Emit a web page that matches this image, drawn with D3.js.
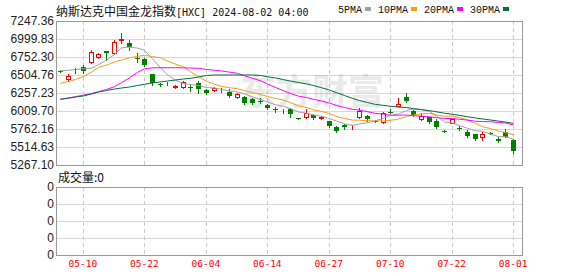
<!DOCTYPE html>
<html>
<head>
<meta charset="utf-8">
<script src="https://cdn.jsdelivr.net/npm/d3@7"></script>
<style>
body { margin: 0; background: #fff; }
svg { display: block; }
</style>
</head>
<body>
<script>
// trading days shown, MM-DD
var dates = ["05-07","05-08","05-09","05-10","05-13","05-14","05-15","05-16","05-17","05-20",
    "05-21","05-22","05-23","05-24","05-28","05-29","05-30","05-31","06-03","06-04",
    "06-05","06-06","06-07","06-10","06-11","06-12","06-13","06-14","06-17","06-18",
    "06-20","06-21","06-24","06-25","06-26","06-27","06-28","07-01","07-02","07-03",
    "07-05","07-08","07-09","07-10","07-11","07-12","07-15","07-16","07-17","07-18",
    "07-19","07-22","07-23","07-24","07-25","07-26","07-29","07-30","07-31","08-01"];
var opens = [6560,6454,6562,6611,6679,6748,6835,6803,6990,6941,6738,6721,6514,6385,6390,6335,6336,6340,6399,6299,
    6299,6310,6275,6206,6198,6175,6150,6092,6042,6010,6033,5910,5923,5955,5920,5872,5794,5817,5800,5923,
    5941,5870,5863,6000,6083,6207,6010,5904,5923,5876,5740,5849,5780,5725,5689,5648,5710,5625,5725,5611];
var closes = [6548,6495,6565,6556,6825,6794,6803,6963,7000,6886,6725,6642,6391,6378,6395,6360,6413,6325,6308,6253,
    6330,6316,6220,6240,6124,6116,6142,6055,6037,6014,5968,5904,5978,5910,5923,5808,5739,5786,5806,6014,
    5900,5862,5978,5992,6106,6151,5955,5941,5863,5794,5735,5895,5765,5670,5625,5693,5703,5601,5656,5464];
var highs = [6568,6514,6605,6642,6849,6803,6840,6986,7078,6986,6803,6743,6520,6399,6410,6370,6420,6367,6422,6310,
    6340,6320,6308,6262,6216,6190,6184,6106,6069,6037,6047,5915,6037,5965,5935,5875,5800,5827,5817,6047,
    5950,5880,6000,6037,6184,6253,6020,5978,5930,5895,5750,5904,5803,5748,5695,5725,5720,5648,5758,5621];
var lows = [6540,6426,6528,6536,6666,6734,6711,6794,6941,6849,6688,6633,6367,6354,6368,6330,6330,6285,6261,6240,
    6290,6271,6206,6184,6106,6105,6116,6041,6000,5982,5931,5899,5920,5900,5900,5794,5725,5762,5762,5920,
    5877,5852,5849,5978,6080,6138,5945,5886,5849,5780,5725,5840,5748,5656,5615,5611,5695,5583,5648,5436];

var ma5 = [6560,6570,6580,6590,6598,6647,6709,6788,6877,6889,6875,6843,6729,6604,6506,6433,6387,6374,6360,6332,
    6326,6306,6285,6272,6246,6203,6168,6135,6095,6073,6043,5996,5980,5955,5937,5905,5872,5833,5812,5831,
    5849,5874,5912,5949,5968,6018,6036,6029,6003,5941,5858,5846,5810,5772,5738,5730,5691,5658,5656,5623];
var ma10 = [6391,6415,6443,6484,6546,6608,6642,6684,6711,6743,6761,6776,6758,6741,6698,6654,6615,6551,6482,6419,
    6379,6347,6330,6316,6289,6264,6237,6210,6183,6159,6123,6082,6058,6025,6005,5974,5934,5907,5884,5884,
    5877,5873,5873,5881,5899,5933,5955,5970,5976,5954,5938,5941,5920,5887,5839,5794,5768,5734,5714,5681];
var ma20 = [6171,6189,6207,6228,6250,6275,6305,6345,6400,6465,6540,6590,6603,6605,6605,6605,6603,6600,6597,6581,
    6570,6561,6544,6528,6493,6459,6426,6381,6333,6289,6251,6214,6194,6170,6147,6119,6086,6059,6033,6022,
    6000,5977,5965,5953,5952,5954,5944,5939,5930,5919,5907,5907,5896,5884,5869,5864,5862,5852,5845,5817];
var ma30 = [6171,6186,6202,6216,6243,6271,6292,6312,6326,6340,6360,6377,6395,6409,6422,6436,6450,6459,6477,6498,
    6505,6505,6505,6505,6505,6505,6498,6481,6464,6441,6421,6402,6382,6360,6330,6298,6262,6223,6183,6154,
    6126,6100,6087,6074,6064,6057,6042,6029,6014,5999,5979,5965,5950,5931,5914,5900,5886,5871,5858,5839];

var yTicks = [7247.36, 6999.83, 6752.30, 6504.76, 6257.23, 6009.70, 5762.16, 5514.63, 5267.10];
var volTicks = ["0", "0", "0", "0", "0"];
var tickDates = ["05-10", "05-22", "06-04", "06-14", "06-27", "07-10", "07-22", "08-01"];
var maNames = ["5PMA", "10PMA", "20PMA", "30PMA"];
var maColors = ["#a0a0a0", "#f0a010", "#ff00ff", "#00703c"];
var title = "纳斯达克中国金龙指数", titleCode = "[HXC] 2024-08-02 04:00";
var volTitle = "成交量:0";

var W = 578, H = 276;
var pL = 56, pR = 522, pT = 21, pB = 165;
var vT = 187, vB = 255;

var svg = d3.select("body").append("svg").attr("width", W).attr("height", H);

var x = d3.scaleBand().domain(dates).range([pL, 517]);
var cx = function (d) { return Math.round(x(d) + x.bandwidth() / 2); };
var y = d3.scaleLinear().domain([yTicks[yTicks.length - 1], yTicks[0]]).range([pB, pT]);
var yv = d3.scaleLinear().domain([0, volTicks.length - 1]).range([vB, vT]);

// grids
function hGrid(ys) {
    svg.append("g").selectAll("line").data(ys).join("line")
        .attr("x1", pL).attr("x2", pR)
        .attr("y1", function (d) { return Math.round(d) + 0.5; })
        .attr("y2", function (d) { return Math.round(d) + 0.5; })
        .attr("stroke", "#d8d8d8");
}
hGrid(yTicks.map(y));
hGrid(volTicks.map(function (d, i) { return yv(i); }));
[[pT, pB], [vT, vB]].forEach(function (r) {
    svg.append("g").selectAll("line").data(tickDates).join("line")
        .attr("x1", function (d) { return cx(d) + 0.5; })
        .attr("x2", function (d) { return cx(d) + 0.5; })
        .attr("y1", r[0]).attr("y2", r[1])
        .attr("stroke", "#cccccc").attr("stroke-dasharray", "4,3");
});

// watermark
svg.append("text").attr("x", 240).attr("y", 105)
    .attr("font-family", "Noto Sans CJK SC").attr("font-size", 36).attr("font-weight", "bold")
    .attr("fill", "#000").attr("opacity", 0.08).text("东方财富");

// candles
var g = svg.append("g");
dates.forEach(function (d, i) {
    var c = cx(d), up = closes[i] >= opens[i];
    var col = up ? "#ff0000" : "#008000";
    var t = Math.round(y(Math.max(opens[i], closes[i]))), b = Math.round(y(Math.min(opens[i], closes[i])));
    g.append("line").attr("x1", c + 0.5).attr("x2", c + 0.5)
        .attr("y1", Math.round(y(highs[i]))).attr("y2", Math.round(y(lows[i])) + 1)
        .attr("stroke", col);
    if (up) {
        g.append("rect").attr("x", c - 1.5).attr("y", t + 0.5).attr("width", 4).attr("height", Math.max(b - t, 0))
            .attr("fill", "#fff").attr("stroke", col);
    } else {
        g.append("rect").attr("x", c - 2).attr("y", t).attr("width", 5).attr("height", Math.max(b - t, 1))
            .attr("fill", col);
    }
});

// moving averages
var line = d3.line()
    .x(function (d, i) { return cx(dates[i]) + 0.5; })
    .y(function (d) { return y(d); });
[ma5, ma10, ma20, ma30].forEach(function (s, k) {
    svg.append("path").attr("d", line(s)).attr("fill", "none")
        .attr("stroke", maColors[k]).attr("stroke-width", 1);
});

// frames
[[pT, pB], [vT, vB]].forEach(function (r) {
    svg.append("rect").attr("x", pL + 0.5).attr("y", r[0] + 0.5)
        .attr("width", pR - pL).attr("height", r[1] - r[0])
        .attr("fill", "none").attr("stroke", "#999");
});

// axes
var ya = svg.append("g").attr("transform", "translate(" + (pL - 1) + ",0)")
    .call(d3.axisLeft(y).tickValues(yTicks).tickFormat(d3.format(".2f")).tickSize(0).tickPadding(1));
var va = svg.append("g").attr("transform", "translate(" + (pL - 1) + ",0)")
    .call(d3.axisLeft(yv).tickValues(d3.range(volTicks.length)).tickFormat(function (d) { return volTicks[d]; }).tickSize(0).tickPadding(1));
[ya, va].forEach(function (a) {
    a.select(".domain").remove();
    a.attr("font-family", "Liberation Sans").attr("font-size", 12);
    a.selectAll("text").attr("fill", "#222").attr("dy", "0.27em");
});
var xa = svg.append("g").attr("transform", "translate(0," + vB + ")")
    .call(d3.axisBottom(x).tickValues(tickDates).tickSize(0).tickPadding(5));
xa.select(".domain").remove();
xa.attr("font-family", "DejaVu Sans Mono").attr("font-size", 9.5);
xa.selectAll("text").attr("fill", "#ff0000").attr("dy", "0.71em");

// title
var tt = svg.append("text").attr("x", 56).attr("y", 16).attr("fill", "#111");
tt.append("tspan").attr("font-family", "Noto Sans CJK SC").attr("font-size", 12).text(title);
tt.append("tspan").attr("font-family", "DejaVu Sans Mono").attr("font-size", 10).text(titleCode);

// legend
var lx = 338;
maNames.forEach(function (n, k) {
    var t = svg.append("text").attr("x", lx).attr("y", 13)
        .attr("font-family", "Liberation Mono").attr("font-size", 10).attr("fill", "#111").text(n);
    var w = t.node().getComputedTextLength();
    svg.append("rect").attr("x", Math.round(lx + w + 3)).attr("y", 7).attr("width", 6).attr("height", 4)
        .attr("fill", maColors[k]);
    lx = Math.round(lx + w + 3) + 13;
});

svg.append("text").attr("x", 58).attr("y", 182)
    .attr("font-family", "Noto Sans CJK SC").attr("font-size", 12).attr("fill", "#111").text(volTitle);
</script>
</body>
</html>
